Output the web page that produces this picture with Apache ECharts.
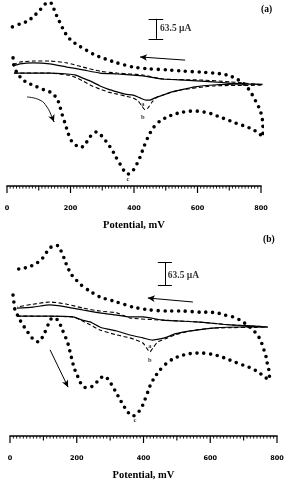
<!DOCTYPE html>
<html><head><meta charset="utf-8">
<script src="https://cdn.jsdelivr.net/npm/echarts@6/dist/echarts.min.js"></script>
<style>html,body{margin:0;padding:0;background:#fff}#c{width:288px;height:484px}</style>
</head><body><div id="c"></div>
<script>
// ---------- data (potential mV, current µA) ----------
const xTickLabels = ['0', '200', '400', '600', '800'];
const xName = 'Potential, mV';
const scaleText = '63.5 µA';
const scaleValue = 63.5;
const xMin = 0, xMax = 800, majorStep = 200, midStep = 100, minorStep = 10;

// Panel (a)
const aDotted = [[19,86],[22,60],[32,38],[47,19],[66,6],[88,-3],[110,-13],[135,-22],[151,-35],[161,-51],[167,-70],[173,-89],[176,-105],[183,-121],[192,-152],[205,-181],[221,-194],[236,-197],[249,-184],[261,-165],[280,-149],[293,-156],[306,-171],[318,-187],[331,-206],[343,-229],[356,-251],[369,-273],[381,-283],[394,-276],[406,-257],[419,-229],[432,-194],[447,-159],[463,-133],[482,-114],[504,-102],[529,-92],[554,-86],[576,-83],[599,-83],[621,-86],[646,-92],[671,-102],[696,-111],[721,-121],[747,-130],[772,-140],[791,-152],[806,-165],[806,-146],[806,-124],[803,-102],[797,-79],[788,-60],[778,-41],[769,-25],[756,-6],[743,6],[724,19],[702,29],[677,35],[649,38],[608,41],[554,44],[504,48],[450,51],[397,57],[347,70],[309,83],[277,95],[249,111],[227,124],[208,137],[192,152],[180,171],[170,191],[161,210],[151,232],[142,257],[132,264],[120,257],[104,238],[88,222],[66,203],[41,194],[16,184]];
const aSolid = [[22,38],[82,38],[135,38],[189,35],[214,32],[239,22],[268,10],[293,-3],[318,-13],[347,-22],[372,-29],[397,-32],[419,-41],[438,-48],[450,-48],[466,-41],[491,-32],[520,-22],[545,-16],[592,-6],[649,0],[718,3],[805,2],[765,3],[702,6],[649,10],[598,13],[545,16],[491,19],[428,29],[387,32],[347,35],[293,38],[239,48],[189,57],[135,67],[82,70],[41,67],[19,60]];
const aDashed = [[22,38],[135,38],[189,32],[214,25],[239,13],[268,-3],[293,-13],[318,-22],[347,-29],[372,-35],[397,-41],[413,-51],[425,-67],[435,-79],[444,-73],[457,-54],[473,-38],[491,-32],[520,-22],[545,-16],[649,-3],[805,0],[702,10],[608,16],[491,19],[428,32],[387,35],[347,38],[293,44],[239,57],[189,70],[135,76],[82,76],[41,73],[19,64]];
const aSweepCurve = [[63,-38],[104,-48],[126,-70],[142,-102],[148,-117]];
const aReverseArrow = [[561,79],[419,89]];
const aScaleBar = {x: 469, top: 210, halfCap: 23};
const aMarks = [[428,-60,'a'],[428,-102,'b'],[381,-298,'c']];
const aScaleLabel = [482,178];

// Panel (b)
const bDotted = [[9,88],[12,66],[15,47],[24,30],[33,14],[45,-3],[57,-19],[69,-33],[84,-41],[96,-30],[105,-14],[114,6],[123,22],[135,25],[147,14],[156,-6],[165,-25],[174,-47],[180,-69],[186,-91],[192,-113],[201,-132],[210,-152],[222,-166],[237,-168],[252,-160],[266,-146],[281,-135],[293,-143],[305,-160],[317,-179],[329,-199],[341,-218],[353,-235],[368,-246],[383,-237],[395,-221],[404,-201],[413,-179],[422,-157],[434,-138],[449,-119],[467,-102],[488,-88],[509,-80],[530,-75],[554,-72],[578,-72],[602,-75],[626,-80],[650,-88],[674,-97],[698,-105],[722,-113],[743,-124],[760,-135],[775,-146],[778,-127],[772,-108],[769,-88],[763,-69],[757,-52],[749,-33],[737,-17],[722,-3],[707,8],[689,19],[668,28],[644,33],[620,39],[593,41],[569,41],[518,44],[470,44],[419,47],[368,55],[320,69],[269,83],[234,102],[213,116],[198,130],[183,146],[171,168],[162,190],[153,210],[144,224],[132,226],[120,218],[108,204],[96,188],[81,177],[63,168],[45,163],[24,160]];
const bSolid = [[21,30],[69,30],[120,30],[189,28],[216,19],[240,14],[269,0],[293,-6],[320,-11],[359,-22],[398,-30],[428,-36],[449,-33],[470,-28],[494,-19],[518,-14],[563,-8],[608,-3],[689,0],[772,0],[719,3],[659,6],[560,14],[458,19],[398,28],[359,28],[320,33],[269,39],[219,47],[171,55],[120,61],[69,55],[21,52]];
const bDashed = [[21,30],[189,28],[216,17],[240,6],[269,-8],[320,-22],[359,-30],[398,-44],[413,-63],[419,-69],[428,-58],[443,-41],[464,-33],[494,-22],[539,-11],[608,-3],[772,0],[659,6],[560,14],[458,19],[359,25],[320,39],[269,44],[219,52],[171,63],[120,69],[69,63],[21,55]];
const bSweepArrow = [[120,-63],[174,-166]];
const bReverseArrow = [[548,69],[413,80]];
const bScaleBar = {x: 464, top: 179, halfCap: 21};
const bMarks = [[419,-52,'a'],[419,-91,'b'],[374,-257,'c']];
const bScaleLabel = [473,143];

// ---------- chart ----------
const black = '#000';
const dotStyle = {color: black, width: 3.6, type: [0, 6.8], cap: 'round'};
const solidStyle = {color: black, width: 1.2};
const dashStyle = {color: black, width: 1.1, type: [4, 2.5]};

const yA = {min: -320.675, max: 269.875};
const yB = {min: -300.84, max: 240.12};

// tick positions along the potential axis (every 10 mV)
const tickValues = [];
for (let v = xMin; v <= xMax; v += minorStep) tickValues.push(v);

function dataAxis(grid) {
  return {gridIndex: grid, type: 'value', min: xMin, max: xMax, show: false};
}
// labels + name only; line and ticks are drawn by the ruler series below
function labelAxis(grid) {
  return {gridIndex: grid, type: 'value', min: xMin, max: xMax, interval: majorStep,
    axisLine: {show: false, onZero: false}, axisTick: {show: false}, splitLine: {show: false},
    axisLabel: {show: true, margin: 19, color: black, fontFamily: 'DejaVu Sans', fontWeight: 'bold', fontSize: 6.5,
                formatter: v => xTickLabels[Math.round(v / majorStep)]},
    name: xName, nameLocation: 'middle', nameGap: 34,
    nameTextStyle: {color: black, fontFamily: 'Liberation Serif', fontWeight: 'bold', fontSize: 10.5}};
}

// ruler: axis line and ticks placed through the chart's own x scale (api.coord)
function rulerSeries(xi, yi, yMin) {
  return [
    {type: 'custom', xAxisIndex: xi, yAxisIndex: yi, silent: true, animation: false, clip: false, z: 4,
     data: tickValues.map(v => [v, yMin]),
     renderItem: (params, api) => {
       const v = api.value(0);
       const p = api.coord([v, yMin]);
       let len = 2.6, w = 0.9;
       if (v % majorStep === 0) { len = 7; w = 1.2; }
       else if (v % midStep === 0) { len = 4.5; w = 1.1; }
       return {type: 'line', shape: {x1: p[0], y1: p[1], x2: p[0], y2: p[1] + len},
               style: {stroke: black, lineWidth: w}};
     }},
    {type: 'custom', xAxisIndex: xi, yAxisIndex: yi, silent: true, animation: false, clip: false, z: 4,
     data: [[xMin, yMin, xMax]],
     renderItem: (params, api) => {
       const p1 = api.coord([api.value(0), yMin]);
       const p2 = api.coord([api.value(2), yMin]);
       return {type: 'line', shape: {x1: p1[0] - 0.6, y1: p1[1], x2: p2[0] + 0.6, y2: p2[1]},
               style: {stroke: black, lineWidth: 1.4}};
     }}
  ];
}

function arrowLine(p, q) {
  return [{coord: p, symbol: 'none'}, {coord: q, symbol: 'arrow', symbolSize: [5, 7]}];
}
function plain(p, q) {
  return [{coord: p, symbol: 'none'}, {coord: q, symbol: 'none'}];
}

function panelSeries(xi, yi, dotted, solid, dashed, marks, scaleLabel, bar, extraLines) {
  const common = {type: 'line', xAxisIndex: xi, yAxisIndex: yi, showSymbol: false, symbol: 'none',
                  clip: false, silent: true, animation: false};
  const barLines = [
    plain([bar.x, bar.top], [bar.x, bar.top - scaleValue]),
    plain([bar.x - bar.halfCap, bar.top], [bar.x + bar.halfCap, bar.top]),
    plain([bar.x - bar.halfCap, bar.top - scaleValue], [bar.x + bar.halfCap, bar.top - scaleValue])
  ];
  return [
    Object.assign({}, common, {name: 'c', data: dotted, smooth: 0.2, lineStyle: dotStyle}),
    Object.assign({}, common, {name: 'b', data: dashed, smooth: 0.2, lineStyle: dashStyle}),
    Object.assign({}, common, {name: 'a', data: solid, smooth: 0.2, lineStyle: solidStyle}),
    {type: 'scatter', xAxisIndex: xi, yAxisIndex: yi, symbolSize: 0, silent: true, animation: false, z: 5,
     data: marks.map(m => ({value: [m[0], m[1]], name: m[2]})).concat([{value: scaleLabel, name: scaleText,
       label: {position: 'right', distance: 0, fontSize: 9.5}}]),
     labelLayout: {hideOverlap: false},
     label: {show: true, position: 'inside', formatter: p => p.name, color: black,
             fontFamily: 'Liberation Serif', fontWeight: 'bold', fontSize: 6.5},
     markLine: {silent: true, animation: false, symbol: 'none', label: {show: false},
                lineStyle: {color: black, width: 1, type: 'solid'},
                emphasis: {disabled: true},
                data: barLines.concat(extraLines)}}
  ];
}

const chart = echarts.init(document.getElementById('c'), null, {renderer: 'canvas'});
const series = []
  .concat(panelSeries(0, 0, aDotted, aSolid, aDashed, aMarks, aScaleLabel, aScaleBar,
    [arrowLine(aReverseArrow[0], aReverseArrow[1]),
     arrowLine(aSweepCurve[aSweepCurve.length - 2], aSweepCurve[aSweepCurve.length - 1])]))
  .concat(panelSeries(1, 1, bDotted, bSolid, bDashed, bMarks, bScaleLabel, bScaleBar,
    [arrowLine(bReverseArrow[0], bReverseArrow[1]), arrowLine(bSweepArrow[0], bSweepArrow[1])]))
  .concat(rulerSeries(0, 0, yA.min))
  .concat(rulerSeries(1, 1, yB.min));
series.push({type: 'line', xAxisIndex: 0, yAxisIndex: 0, data: aSweepCurve, smooth: 0.5, showSymbol: false,
  symbol: 'none', silent: true, animation: false, lineStyle: {color: black, width: 0.9}});

const gridA = {left: 7, top: 0, width: 254, height: 186};
const gridB = {left: 10, top: 240, width: 267, height: 196};
const grids = [gridA, gridB, gridA, gridB].map(g => Object.assign({}, g));
const yAxes = [yA, yB, {min: 0, max: 1}, {min: 0, max: 1}]
  .map((r, i) => Object.assign({gridIndex: i, type: 'value', show: false}, r));

chart.setOption({
  animation: false,
  backgroundColor: '#fff',
  title: [
    {text: '(a)', left: 261, top: 5, padding: 0,
     textStyle: {color: black, fontFamily: 'Liberation Serif', fontWeight: 'bold', fontSize: 9.5}},
    {text: '(b)', left: 263, top: 235, padding: 0,
     textStyle: {color: black, fontFamily: 'Liberation Serif', fontWeight: 'bold', fontSize: 9.5}}
  ],
  grid: grids,
  xAxis: [dataAxis(0), dataAxis(1), labelAxis(2), labelAxis(3)],
  yAxis: yAxes,
  series: series
});
</script>
</body></html>
